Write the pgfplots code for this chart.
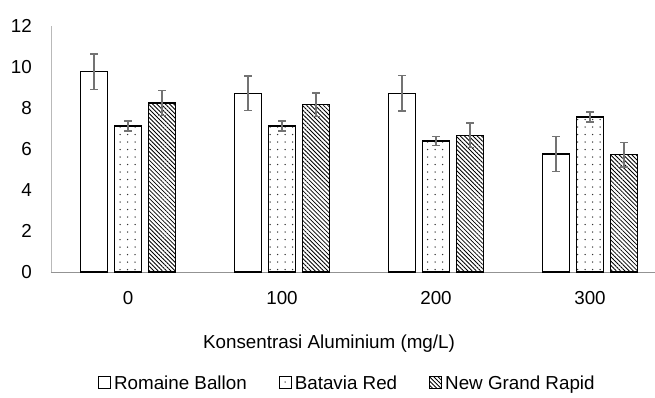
\documentclass[border=0pt]{standalone}
\usepackage{pgfplots}
\pgfplotsset{compat=1.18}
\usepackage{fontspec}
\setmainfont{Liberation Sans}
\usetikzlibrary{patterns.meta}
\newcommand\cf{\fontsize{18.8}{22.5}\selectfont}
\definecolor{errc}{HTML}{737373}
\begin{document}
\begin{tikzpicture}
\useasboundingbox (-51pt,-125pt) rectangle (604pt,272pt);
\begin{axis}[
  scale only axis,
  width=604pt, height=246pt,
  xmin=-0.5, xmax=3.422,
  ymin=0, ymax=12,
  ytick={0,2,4,6,8,10,12},
  xtick={0,1,2,3},
  xticklabels={0,100,200,300},
  axis x line=bottom, axis y line=left,
  axis line style={-},
  x axis line style={draw=gray!85, line width=0.9pt},
  y axis line style={draw=gray!55, line width=0.7pt},
  major tick length=0pt,
  /pgf/number format/assume math mode=true,
  tick label style={font=\cf, inner sep=0pt},
  xticklabel style={anchor=north, yshift=-19pt},
  yticklabel style={anchor=east, xshift=-19pt},
  xlabel={Konsentrasi Aluminium (mg/L)},
  xlabel style={font=\cf, at={(axis description cs:0.4603,-0.31)}, anchor=base},
  ybar=7pt, bar width=27pt,
  clip=false,
  legend columns=3,
  legend style={font=\cf, draw=none, fill=none,
    at={(axis description cs:0.489,-0.451)}, anchor=center,
    nodes={inner sep=0pt},
    /tikz/every odd column/.append style={column sep=3pt},
    /tikz/every even column/.append style={column sep=32pt}},
  legend image code/.code={\draw[#1, line width=1pt] (0pt,-6pt) rectangle (12pt,6pt);},
  error bars/y dir=both, error bars/y explicit,
  error bars/error mark options={rotate=90, mark size=3.6pt, line width=1.4pt, draw=errc},
  error bars/error bar style={line width=1.4pt, draw=errc},
]
\addplot[draw=black, line width=1.3pt, fill=white] coordinates {
  (0,9.77) +- (0,0.86)
  (1,8.72) +- (0,0.85)
  (2,8.72) +- (0,0.86)
  (3,5.76) +- (0,0.85)
};
\addplot[draw=black, line width=1.3pt, pattern={Dots[distance=7.5pt, radius=0.75pt]}, pattern color=black!80] coordinates {
  (0,7.12) +- (0,0.25)
  (1,7.12) +- (0,0.25)
  (2,6.39) +- (0,0.23)
  (3,7.56) +- (0,0.25)
};
\addplot[draw=black, line width=1.3pt, pattern={Lines[angle=-45, distance=3pt, line width=0.8pt]}] coordinates {
  (0,8.24) +- (0,0.62)
  (1,8.16) +- (0,0.57)
  (2,6.67) +- (0,0.60)
  (3,5.72) +- (0,0.60)
};
\legend{Romaine Ballon, Batavia Red, New Grand Rapid}
\end{axis}
\end{tikzpicture}
\end{document}
